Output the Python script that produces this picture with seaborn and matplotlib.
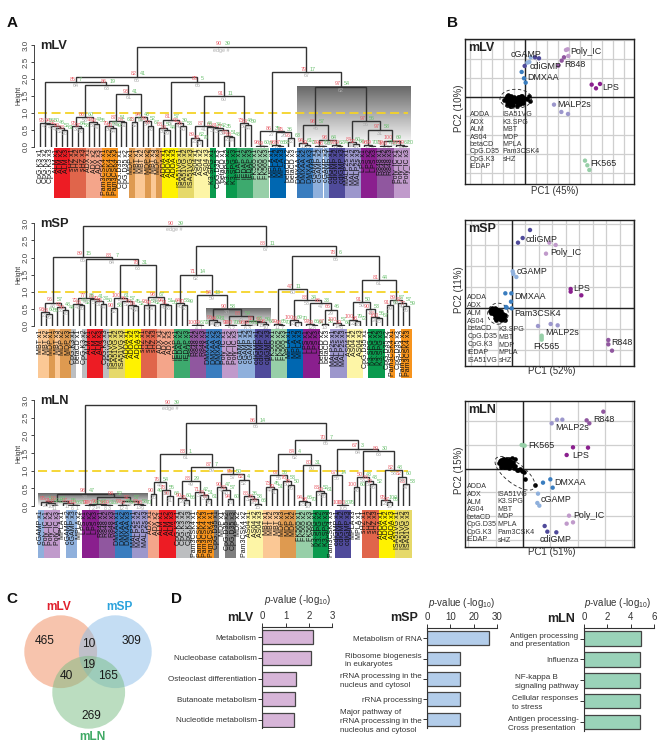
import matplotlib
matplotlib.use("Agg")
import matplotlib.pyplot as plt
from matplotlib.patches import Circle, Ellipse
import numpy as np
import pandas as pd
import seaborn as sns

# ---- data ----
L = None  # a leaf; a node is (height, AU, BP, left, right)

mLV_tree = (2.95, 90, 39,
    (2.07, 82, 41,
        (1.9, 85, 7,
            (0.7, 95, 56, L, (0.68, 94, 50, L, (0.62, 92, 46, L, (0.55, 90, 52, L, (0.48, 88, 61, L, L))))),
            (1.83, 86, 19,
                (0.88, 86, 60, (0.6, 95, 64, L, (0.55, 97, 58, L, L)), (0.73, 92, 47, L, (0.68, 90, 55, L, L))),
                (1.55, 93, 41,
                    (0.77, 87, 51, (0.6, 79, 60, L, (0.55, 90, 49, L, L)), (0.72, 84, 63, L, L)),
                    (0.88, 94, 48, (0.72, 73, 51, L, L), (0.75, 89, 52, L, (0.62, 90, 67, L, L)))))),
        (1.92, 85, 5,
            (0.8, 81, 57, (0.56, 88, 50, L, (0.48, 84, 44, L, L)), (0.7, 92, 39, L, (0.6, 86, 53, L, L))),
            (1.5, 91, 11,
                (0.6, 87, 44,
                    (0.27, 89, 62, L, (0.2, 93, 70, L, L)),
                    (0.58, 66, 38, L, (0.55, 81, 42, L, (0.5, 77, 35, L, (0.33, 92, 51, L, (0.28, 88, 43, L, L)))))),
                (0.7, 73, 48, L, (0.65, 84, 59, L, L))))),
    (2.2, 79, 17,
        (0.45, 86, 35,
            (0.03, 98, 60, L, (0.02, 99, 71, L, L)),
            (0.42, 95, 36, (0.04, 98, 66, L, (0.03, 97, 58, L, L)), (0.25, 96, 63, L, L))),
        (1.77, 97, 54,
            (0.65, 98, 57,
                (0.1, 94, 61, L, (0.05, 99, 72, L, L)),
                (0.2, 98, 64, (0.03, 99, 70, L, (0.02, 98, 66, L, L)), (0.05, 97, 62, L, (0.03, 99, 74, L, L)))),
            (0.75, 97, 56,
                (0.13, 84, 60, L, (0.07, 92, 68, L, L)),
                (0.5, 97, 58,
                    (0.05, 98, 70, L, (0.03, 99, 73, L, L)),
                    (0.18, 100, 69,
                        (0.03, 99, 71, L, (0.02, 100, 75, L, L)),
                        (0.05, 100, 67, L, (0.03, 99, 80, L, L))))))))

mSP_core = (1.5, 71, 14,
    (0.67, 64, 53, L, (0.62, 70, 49, L, L)),
    (0.9, 54, 13,
        (0.03, 100, 67, L, (0.02, 99, 72, L, L)),
        (0.5, 90, 58,
            (0.17, 96, 60, L, (0.13, 94, 61, L, L)),
            (0.28, 88, 54,
                (0.03, 99, 70, L, (0.02, 100, 66, L, L)),
                (0.15, 92, 63, (0.03, 98, 68, L, (0.02, 99, 61, L, L)), (0.12, 97, 59, L, (0.05, 98, 60, L, L)))))))
mSP_far = (2.05, 78, 6,
    (1.07, 47, 11,
        (0.05, 99, 65, L, (0.03, 98, 70, L, L)),
        (0.75, 88, 34,
            (0.17, 100, 69, L, (0.13, 96, 70, L, L)),
            (0.67, 86, 33,
                (0.05, 97, 66, L, (0.03, 99, 64, L, L)),
                (0.48, 66, 46, (0.05, 67, 50, L, L), (0.1, 100, 57, L, (0.03, 99, 60, L, L)))))),
    (1.33, 81, 44,
        (0.7, 91, 50, (0.18, 100, 79, L, (0.14, 98, 72, L, L)), (0.5, 90, 53, L, (0.27, 88, 56, L, (0.22, 100, 67, L, L)))),
        (0.75, 89, 57, (0.6, 91, 60, L, L), (0.68, 82, 57, L, (0.57, 77, 59, L, L)))))
mSP_left = (2.03, 89, 15,
    (0.68, 96, 57, (0.4, 93, 60, L, (0.36, 88, 55, L, L)), (0.55, 92, 48, L, (0.47, 90, 44, L, L))),
    (1.97, 88, 7,
        (0.82, 77, 36,
            (0.65, 72, 47, L, (0.6, 88, 52, L, L)),
            (0.78, 81, 41, L, (0.72, 79, 37, L, (0.65, 85, 50, L, L)))),
        (1.78, 78, 31,
            (0.82, 100, 61, (0.53, 90, 58, L, L), (0.72, 86, 57, L, (0.62, 80, 45, L, (0.57, 84, 52, L, L)))),
            (0.85, 98, 67, (0.62, 93, 58, L, (0.6, 90, 62, L, L)), (0.65, 94, 51, L, (0.6, 91, 56, L, L))))))
mSP_tree = (2.92, 90, 39, mSP_left, (2.33, 88, 11, mSP_core, mSP_far))

mLN_tree = (2.85, 90, 39,
    (0.35, 98, 47,
        (0.14, 96, 60,
            (0.12, 95, 58, L, (0.08, 91, 62, L, (0.04, 99, 70, L, L))),
            (0.08, 97, 55, L, (0.03, 98, 66, L, (0.02, 99, 71, L, L)))),
        (0.26, 94, 52,
            (0.06, 98, 63, (0.03, 99, 68, L, (0.02, 100, 73, L, L)), (0.03, 98, 61, L, (0.02, 99, 66, L, L))),
            (0.15, 92, 57, (0.04, 97, 69, L, (0.02, 99, 64, L, L)), (0.05, 96, 58, L, (0.03, 98, 70, L, L))))),
    (2.35, 86, 14,
        (1.47, 83, 1,
            (0.68, 76, 54, (0.35, 90, 49, L, L), (0.45, 78, 55, L, (0.27, 90, 64, L, L))),
            (1.1, 87, 7,
                (0.7, 83, 29, (0.23, 90, 60, L, (0.17, 95, 66, L, L)), (0.4, 71, 42, L, (0.3, 84, 51, L, (0.2, 87, 61, L, L)))),
                (0.9, 95, 50, (0.53, 90, 47, L, (0.45, 82, 57, L, (0.2, 94, 60, L, L))),
                    (0.75, 82, 4, L, (0.28, 88, 36, L, (0.2, 93, 58, L, (0.07, 96, 66, L, L))))))),
        (1.87, 70, 7,
            (1.47, 84, 4,
                (0.87, 67, 36, (0.55, 73, 45, L, (0.48, 79, 51, L, L)), (0.72, 76, 53, L, (0.6, 78, 50, L, L))),
                (1.15, 80, 31, (0.15, 94, 66, L, (0.1, 98, 70, L, L)), (0.43, 83, 52, L, (0.38, 90, 61, L, L)))),
            (1.62, 67, 3,
                (0.88, 87, 14, L, (0.03, 100, 80, L, (0.02, 100, 76, L, L))),
                (1.56, 89, 30,
                    (0.82, 50, 43, (0.53, 100, 60, L, L), (0.72, 88, 43, L, (0.62, 72, 52, L, L))),
                    (1.02, 82, 48, (0.17, 95, 100, L, (0.1, 97, 85, L, L)), (0.83, 82, 60, L, (0.62, 83, 53, L, L))))))))

mLV_leaves = (['CpG.K3'] * 3 + ['ALM'] * 3 + ['sHZ'] * 3 + ['ADX'] * 3 + ['Pam3CSK4'] * 3 + ['CpG.D35'] * 2
              + ['MDP', 'MBT', 'MBT', 'MDP', 'MBT', 'MDP'] + ['ADDA'] * 3 + ['ISA51VG'] * 3 + ['AS04'] * 3
              + ['K3.SPG', 'CpG.D35', 'betaCD'] + ['K3.SPG'] * 2 + ['iEDAP'] * 3 + ['FK565'] * 3 + ['MPLA'] * 3
              + ['betaCD'] * 2 + ['DMXAA'] * 3 + ['cGAMP'] * 3 + ['cdiGMP'] * 3 + ['MALP2s'] * 3 + ['LPS'] * 3
              + ['R848'] * 3 + ['Poly_IC'] * 3)
mLV_blank = [0, 1, 2, 15, 16, 33, 34, 46, 47]

mSP_leaves = (['MBT', 'MBT', 'MDP', 'MBT', 'MDP', 'MDP', 'CpG.K3', 'betaCD', 'CpG.K3'] + ['ALM'] * 3 + ['CpG.K3']
              + ['ISA51VG'] * 3 + ['ADDA'] * 3 + ['sHZ'] * 3 + ['ADX'] * 3 + ['iEDAP'] * 3 + ['R848'] * 3
              + ['DMXAA'] * 3 + ['Poly_IC'] * 3 + ['cGAMP'] * 3 + ['cdiGMP'] * 3 + ['FK565'] * 3 + ['MPLA'] * 3
              + ['LPS'] * 3 + ['betaCD'] * 2 + ['MALP2s'] * 3 + ['AS04'] * 3 + ['CpG.D35'] + ['K3.SPG'] * 3
              + ['CpG.D35', 'Pam3CSK4', 'CpG.D35', 'Pam3CSK4', 'Pam3CSK4'])
mSP_blank = [7, 52, 53, 60, 64, 66]

mLN_leaves = (['cGAMP'] + ['Poly_IC'] * 3 + ['MPLA', 'cGAMP', 'cGAMP', 'MPLA'] + ['LPS'] * 3 + ['R848'] * 3
              + ['DMXAA'] * 3 + ['MALP2s'] * 3 + ['ADX'] * 2 + ['ALM'] * 3 + ['CpG.K3'] * 3 + ['Pam3CSK4'] * 4
              + ['CpG.D35', 'MDP', 'CpG.D35', 'CpG.D35', 'MDP', 'Pam3CSK4'] + ['AS04'] * 3 + ['MBT'] * 3
              + ['MDP'] * 3 + ['FK565'] * 3 + ['K3.SPG'] * 3 + ['Pam3CSK4'] + ['cdiGMP'] * 3 + ['MPLA'] * 2
              + ['sHZ'] * 3 + ['ADDA'] * 3 + ['ISA51VG'] * 3)
mLN_blank = [4, 7, 28, 33, 36, 37, 53, 57, 58]

# PCA scores, three replicates per stimulus in the order of *_stims
mLV_stims = ['cGAMP', 'cdiGMP', 'DMXAA', 'Poly_IC', 'R848', 'LPS', 'MALP2s', 'FK565']
mLV_pc1 = [0.6, 1.2, 1.6, 4.1, -0.2, 2.9, -1.1, -0.4, 0.1, 12.2, 12.7, 12.9, 11.6, 10.9, 9.9, 19.9, 21.2, 22.4,
           8.6, 10.8, 12.8, 17.9, 18.6, 19.2]
mLV_pc2 = [10.2, 10.4, 11.8, 11.5, 9.2, 11.8, 7.4, 5.5, 4.2, 14.0, 14.2, 12.2, 11.8, 10.8, 9.3, 3.6, 2.5, 3.8,
           -2.4, -4.6, -5.2, -19.2, -20.6, -22.0]
mLV_rest_pc1 = [-6.3, -5.9, -5.6, -5.4, -5.2, -5.0, -4.8, -4.7, -4.5, -4.4, -4.2, -4.1, -3.9, -3.7, -3.6, -3.4, -3.2,
                -5.5, -5.1, -4.6, -4.3, -3.8, -5.3, -4.9, -4.4, -2.8, -2.5, -2.2, -1.9, -1.6, -1.4, -1.1, -0.8,
                -0.5, -2.6, -2.0, -1.5, -1.0, -0.6, -2.3, -1.8, -1.2, 0.6, 1.2, 1.4]
mLV_rest_pc2 = [-0.9, -0.4, -1.6, 0.1, -0.8, -2.2, 0.3, -1.4, -0.2, -2.7, 0.2, -1.0, -1.9, -0.3, -2.4, 0.0, -1.3,
                -2.6, -1.8, -2.9, -1.6, -0.7, 0.4, 0.0, -0.6, -1.7, -0.6, -2.3, -0.2, -1.4, 0.1, -0.8, -1.9, -0.4,
                -2.8, -1.0, -2.2, 0.2, -1.2, 0.0, -1.6, -1.0, -0.6, 0.1, -1.2]

mSP_stims = ['cdiGMP', 'Poly_IC', 'cGAMP', 'LPS', 'DMXAA', 'Pam3CSK4', 'MALP2s', 'FK565', 'R848']
mSP_pc1 = [5.5, 3.3, 1.9, 11.3, 13.2, 10.3, 0.3, 0.5, 1.4, 17.7, 17.7, 20.9, -1.9, -0.1, -0.2, -1.7, 0.0, -1.5,
           7.9, 11.7, 13.8, 9.0, 9.0, 9.0, 29.0, 29.0, 30.1]
mSP_pc2 = [23.3, 20.9, 19.5, 19.5, 18.8, 16.2, 10.9, 10.1, 9.2, 5.6, 4.8, 3.7, 4.3, 4.3, 1.8, 0.2, -0.2, 0.0,
           -5.5, -4.9, -5.3, -8.4, -9.0, -9.6, -9.7, -11.0, -12.9]
mSP_rest_pc1 = [-6.6, -6.3, -6.1, -5.9, -5.8, -5.6, -5.5, -5.3, -5.2, -5.0, -4.9, -4.7, -4.6, -4.4, -4.2, -4.0, -3.8,
                -3.6, -3.4, -3.2, -3.0, -2.8, -2.5, -2.2, -1.9, -6.0, -5.4, -4.8, -4.3, -3.9, -3.5, -3.1, -2.7,
                -5.7, -5.1, -4.5, -4.1, -3.7, -3.3, -2.9, -5.0, -4.6, -3.6, -2.4, -2.0]
mSP_rest_pc2 = [-1.0, -0.5, -1.5, -0.2, -1.0, -1.7, -0.4, -2.0, -0.8, -1.4, -2.3, -0.3, -1.1, -1.8, -2.7, -0.6, -1.4,
                -2.2, -3.0, -1.0, -1.9, -2.8, -3.3, -2.6, -2.2, -0.7, -1.3, -2.6, -2.2, -1.1, -3.4, -2.5, -1.8,
                -1.2, -0.1, -0.7, -3.1, -2.6, -3.7, -3.3, -3.1, -3.6, -1.8, -3.0, -3.6]

mLN_stims = ['R848', 'MALP2s', 'FK565', 'LPS', 'DMXAA', 'cGAMP', 'Poly_IC', 'cdiGMP']
mLN_pc1 = [19.1, 19.9, 24.1, 8.6, 10.2, 11.8, -0.4, 0.1, 0.5, 15.0, 19.5, 13.1, 8.2, 6.0, 8.9, 4.5, 4.3, 4.9,
           13.8, 13.1, 15.0, 6.5, 7.3, 10.0]
mLN_pc2 = [14.5, 13.6, 17.1, 13.6, 14.7, 14.7, 7.1, 7.0, 6.9, 6.4, 6.3, 4.1, -3.2, -4.2, -5.7, -7.5, -10.3, -11.1,
           -14.1, -16.5, -16.1, -17.2, -18.9, -19.1]
mLN_rest_pc1 = [-7.1, -6.9, -6.7, -6.6, -6.4, -6.3, -6.1, -6.0, -5.8, -5.7, -5.5, -5.4, -5.2, -5.1, -4.9, -4.8, -4.6,
                -4.4, -4.2, -4.0, -3.8, -3.5, -3.2, -2.9, -2.5, -6.2, -5.6, -5.0, -4.5, -3.9, -6.5, -5.9, -5.3,
                -4.7, -4.1, -3.0, -2.7, -2.4, -1.8, -1.4, -1.0, -0.4, 0.2, 0.5, 3.6]
mLN_rest_pc2 = [1.6, 2.2, 1.2, 2.7, 1.8, 0.9, 2.4, 1.4, 2.9, 0.6, 2.0, 1.1, 2.6, 0.4, 1.6, 3.0, 0.9, 2.2, 0.3, 1.4,
                2.7, 0.9, 3.1, 2.0, 3.0, 1.2, 2.5, 1.9, 1.0, 2.2, 0.6, 3.0, 0.8, 1.3, 2.8, 1.5, 0.2, 0.9, -0.3,
                -0.5, -0.2, -0.8, -0.9, -3.0, -5.0]

stims_left_mLV = ['ADDA', 'ADX', 'ALM', 'AS04', 'betaCD', 'CpG.D35', 'CpG.K3', 'iEDAP']
stims_right_mLV = ['ISA51VG', 'K3.SPG', 'MBT', 'MDP', 'MPLA', 'Pam3CSK4', 'sHZ']
stims_left_mSP = ['ADDA', 'ADX', 'ALM', 'AS04', 'betaCD', 'CpG.D35', 'CpG.K3', 'iEDAP', 'ISA51VG']
stims_right_mSP = ['K3.SPG', 'MBT', 'MDP', 'MPLA', 'sHZ']
stims_left_mLN = ['ADDA', 'ADX', 'ALM', 'AS04', 'betaCD', 'CpG.D35', 'CpG.K3', 'iEDAP']
stims_right_mLN = ['ISA51VG', 'K3.SPG', 'MBT', 'MDP', 'MPLA', 'Pam3CSK4', 'sHZ']

venn_counts = [465, 309, 269, 10, 40, 165, 19]

mLV_paths = ['Metabolism', 'Nucleobase catabolism', 'Osteoclast differentiation', 'Butanoate metabolism',
             'Nucleotide metabolism']
mLV_pvals = [2.17, 2.1, 1.43, 1.4, 1.38]
mSP_paths = ['Metabolism of RNA', 'Ribosome biogenesis\nin eukaryotes', 'rRNA processing in the\nnucleus and cytosol',
             'rRNA processing', 'Major pathway of\nrRNA processing in the\nnucleolus and cytosol']
mSP_pvals = [26.5, 14, 14, 14, 14]
mLN_paths = ['Antigen processing\nand presentation', 'Influenza', 'NF-kappa B\nsignaling pathway',
             'Cellular responses\nto stress', 'Antigen processing-\nCross presentation']
mLN_pvals = [4.85, 4.8, 4.8, 4.8, 4.8]

# ---- styles ----
stim_colors = {'ALM': '#ED1C24', 'sHZ': '#E0654B', 'ADX': '#F4A58A', 'Pam3CSK4': '#F7941D', 'MBT': '#FBC895',
               'MDP': '#DE9A50', 'ADDA': '#FFF200', 'ISA51VG': '#E6D96A', 'AS04': '#FDF5A6', 'K3.SPG': '#0A9A4E',
               'iEDAP': '#3DAA6E', 'FK565': '#97CFA8', 'MPLA': '#0067B1', 'DMXAA': '#3A7DBF', 'cGAMP': '#8FB0DC',
               'cdiGMP': '#4F4A9A', 'MALP2s': '#9C97CC', 'LPS': '#8A1F8E', 'R848': '#90579F', 'Poly_IC': '#C09ACB',
               'CpG.K3': '#BCBEC0', 'CpG.D35': '#7F7F7F', 'betaCD': '#FFFFFF'}
scatter_colors = dict(stim_colors, Pam3CSK4='#3A7DBF')

sns.set_theme(style='white')
plt.rcParams['font.family'] = ['Liberation Sans', 'DejaVu Sans']
plt.rcParams['mathtext.fontset'] = 'custom'
plt.rcParams['mathtext.rm'] = 'Liberation Sans'
plt.rcParams['mathtext.it'] = 'Liberation Sans:italic'
plt.rcParams['mathtext.default'] = 'regular'

W, H = 660, 754
fig = plt.figure(figsize=(W / 100, H / 100), dpi=100)


def px_axes(x0, y0, x1, y1):
    return fig.add_axes([x0 / W, 1 - y1 / H, (x1 - x0) / W, (y1 - y0) / H])


def fig_text(x, y, s, **kw):
    fig.text(x / W, 1 - y / H, s, **kw)


def place(node, counter, out):
    # walk the tree, give each leaf the next slot, collect the merges
    if node is None:
        counter[0] += 1
        return counter[0] - 1, 0.0
    h, au, bp, left, right = node
    xl, yl = place(left, counter, out)
    xr, yr = place(right, counter, out)
    out.append(dict(h=h, au=au, bp=bp, xl=xl, xr=xr, yl=yl, yr=yr, x=(xl + xr) / 2))
    return (xl + xr) / 2, h


def draw_dendro(tree, leaves, blank, title, y0, y3, x0, dx, strip, shade):
    ax = px_axes(34, y3, 412, y0)
    merges = []
    place(tree, [0], merges)
    ranks = {id(m): i + 1 for i, m in enumerate(sorted(merges, key=lambda m: m['h']))}
    # shaded box behind the selected branch
    grad = np.linspace(0, 1, 64).reshape(-1, 1)
    ax.imshow(grad, extent=(shade[0] - 0.5, shade[1] + 0.5, 0, shade[2]), aspect='auto', cmap='gray',
              vmin=-0.7, vmax=1.0, origin='upper', zorder=0)
    for m in merges:
        ax.plot([m['xl'], m['xl'], m['xr'], m['xr']], [m['yl'], m['h'], m['h'], m['yr']],
                color='#333333', lw=1.0, solid_joinstyle='miter', zorder=2)
        ax.text(m['x'], m['h'] + 0.01, str(m['au']), color='#E8606A', fontsize=3.9, ha='right', va='bottom', zorder=3)
        ax.text(m['x'] + 0.6, m['h'] + 0.01, str(m['bp']), color='#6CC070', fontsize=3.9, ha='left', va='bottom', zorder=3)
        edge = 'edge #' if m['h'] == tree[0] else str(ranks[id(m)])
        ax.text(m['x'], m['h'] - 0.03, edge, color='#AAAAAA', fontsize=3.9, ha='center', va='top', zorder=3)
    ax.axhline(1.0, xmin=0.01, xmax=0.99, color='#F5D327', lw=1.3, ls=(0, (5, 2.5)), zorder=1)
    ax.set_xlim((34 - x0) / dx, (412 - x0) / dx)
    ax.set_ylim(0, 3)
    sns.despine(ax=ax, bottom=True)
    ax.spines['left'].set_linewidth(0.7)
    ax.spines['left'].set_color('#444444')
    ax.set_xticks([])
    ax.set_yticks(np.arange(0, 3.01, 0.5))
    ax.set_yticklabels(['%.1f' % v for v in np.arange(0, 3.01, 0.5)], rotation=90, va='center',
                       fontsize=5.8, color='#444444')
    ax.tick_params(axis='y', left=True, length=2, width=0.6, pad=1)
    fig_text(19, (y0 + y3) / 2, 'Height', rotation=90, fontsize=4.8, ha='center', va='center', color='#333333')
    fig_text(40, y3 + 1, title, fontsize=9.3, fontweight='bold', ha='left', va='center', color='#222222')

    # coloured strip with the sample names hanging from the leaves
    sax = px_axes(34, strip[0], 412, strip[1])
    sax.axis('off')
    sax.set_xlim(ax.get_xlim())
    sax.set_ylim(0, 1)
    seen = {}
    for i, name in enumerate(leaves):
        if i not in blank:
            sax.bar(i, 1, width=1.0, bottom=0, color=stim_colors[name], linewidth=0)
        seen[name] = seen.get(name, 0) + 1
        sax.text(i, 0.985, '%s x%d' % (name, (seen[name] - 1) % 3 + 1), rotation=90, ha='center', va='top',
                 fontsize=5.0, color='#111111', clip_on=False)


draw_dendro(mLV_tree, mLV_leaves, mLV_blank, 'mLV', 146.7, 45, 40, 5.40, (148, 198), (48, 68, 1.78))
draw_dendro(mSP_tree, mSP_leaves, mSP_blank, 'mSP', 326, 223.3, 41, 5.41, (329, 378), (31, 42, 0.5))
draw_dendro(mLN_tree, mLN_leaves, mLN_blank, 'mLN', 506, 400, 41, 5.49, (510, 558), (0, 19, 0.36))


def draw_pca(box, cx, cy, step_x, step_y, stims, pc1, pc2, rest1, rest2, ell, title, labels, left, right, xlab, ylab):
    ax = px_axes(*box)
    zw, zh = (box[2] - box[0]) * 0.3, (box[3] - box[1]) * 0.3  # score units per pixel
    xlim = (-cx * 0.1, zw - cx * 0.1)
    ylim = (-(zh - cy * 0.1), cy * 0.1)
    rows = pd.DataFrame({'pc1': pc1, 'pc2': pc2, 'stim': [s for s in stims for _ in range(3)]})
    ax.set_xticks(np.arange(-10, 12) * step_x)
    ax.set_yticks(np.arange(-10, 12) * step_y)
    ax.grid(True, color='#CFCFCF', lw=0.9)
    ax.axhline(0, color='#222222', lw=1.0, zorder=2)
    ax.axvline(0, color='#222222', lw=1.0, zorder=2)
    sns.scatterplot(data=pd.DataFrame({'pc1': rest1, 'pc2': rest2}), x='pc1', y='pc2', color='black', s=11,
                    linewidth=0, ax=ax, zorder=3)
    sns.scatterplot(data=rows, x='pc1', y='pc2', hue='stim', palette=scatter_colors, s=10, linewidth=0,
                    legend=False, ax=ax, zorder=4)
    ax.add_patch(Ellipse(ell[:2], ell[2], ell[3], angle=ell[4], fill=False, ec='#222222', lw=0.6,
                         ls=(0, (4, 3)), zorder=3))
    ax.set_xlim(*xlim)
    ax.set_ylim(*ylim)
    ax.set_xlabel('')
    ax.set_ylabel('')
    ax.tick_params(labelbottom=False, labelleft=False, bottom=False, left=False)
    for s in ax.spines.values():
        s.set_visible(True)
        s.set_color('#222222')
        s.set_linewidth(1.0)
    ax.text(xlim[0] + 1.0, ylim[1] - 2.7, title, fontsize=9, fontweight='bold', ha='left', va='center',
            color='#222222', zorder=6)
    for name, (x, y) in labels.items():
        ax.text(x, y, name, fontsize=6.4, ha='left', va='center', color='#222222', zorder=6)
    for names, x, y, dy in (left, right):
        for i, name in enumerate(names):
            ax.text(x, y + i * dy, name, fontsize=5.1, ha='left', va='center', color='#333333', zorder=6)
    fig_text(xlab[0], xlab[1], xlab[2], fontsize=7, ha='center', va='center', color='#333333')
    fig_text(459, ylab[0], ylab[1], fontsize=7, rotation=90, ha='center', va='center', color='#333333')


draw_pca((465, 39.3, 634.3, 184.3), 181, 172, 3.3, 5.7, mLV_stims, mLV_pc1, mLV_pc2, mLV_rest_pc1, mLV_rest_pc2,
         (-2.85, -0.65, 9.5, 5.7, 0), 'mLV',
         {'cGAMP': (-4.4, 12.5), 'cdiGMP': (1.2, 9.0), 'DMXAA': (0.7, 5.8), 'Poly_IC': (13.6, 13.5),
          'R848': (11.7, 9.6), 'LPS': (23.1, 2.8), 'MALP2s': (9.6, -2.5), 'FK565': (19.4, -20.0)},
         (stims_left_mLV, -16.6, -5.5, -2.22), (stims_right_mLV, -6.8, -5.5, -2.22),
         (555, 190.7, 'PC1 (45%)'), (108, 'PC2 (10%)'))
draw_pca((465, 220, 634.3, 365.7), 140, 263, 4.05, 6.3, mSP_stims, mSP_pc1, mSP_pc2, mSP_rest_pc1, mSP_rest_pc2,
         (-4.1, -1.8, 6.2, 6.3, 0), 'mSP',
         {'cdiGMP': (4.3, 20.5), 'Poly_IC': (11.5, 16.5), 'cGAMP': (1.5, 11.0), 'LPS': (18.5, 5.8),
          'DMXAA': (0.7, 3.3), 'Pam3CSK4': (0.7, -1.7), 'MALP2s': (10.0, -7.4), 'FK565': (6.5, -11.7),
          'R848': (30.0, -10.6)},
         (stims_left_mSP, -13.3, 3.1, -2.37), (stims_right_mSP, -3.9, -6.6, -2.33),
         (551.7, 371, 'PC1 (52%)'), (290, 'PC2 (11%)'))
draw_pca((465, 401, 634.3, 546.7), 174, 203, 8.2, 7.1, mLN_stims, mLN_pc1, mLN_pc2, mLN_rest_pc1, mLN_rest_pc2,
         (-2.4, -1.4, 14.5, 6.0, -38), 'mLN',
         {'MALP2s': (9.8, 12.4), 'R848': (21.1, 14.8), 'FK565': (1.6, 7.1), 'LPS': (14.9, 4.1), 'DMXAA': (9.5, -4.1),
          'cGAMP': (5.4, -9.2), 'Poly_IC': (15.1, -14.0), 'cdiGMP': (5.1, -21.3)},
         (stims_left_mLN, -16.9, -5.5, -2.27), (stims_right_mLN, -7.6, -7.6, -2.3),
         (551.7, 552, 'PC1 (51%)'), (470, 'PC2 (15%)'))

# Venn
vax = px_axes(0, 590, 170, 754)
vax.set_xlim(0, 170)
vax.set_ylim(754, 590)
vax.axis('off')
for (cx, cy), col in zip([(60.7, 651.7), (115.3, 651.7), (88.7, 692.3)], ['#F08A5D', '#8BBDE8', '#78BC82']):
    vax.add_patch(Circle((cx, cy), 36.4, color=col, alpha=0.5, lw=0))
venn_xy = [(45, 641.5), (132, 641), (91, 716), (89, 644), (66, 676), (108, 676), (88.5, 665)]
for val, (x, y) in zip(venn_counts, venn_xy):
    vax.text(x, y, str(val), fontsize=8.6, ha='center', va='center', color='#1A1A1A')
vax.text(59, 607, 'mLV', fontsize=8.6, fontweight='bold', ha='center', va='center', color='#E0202C')
vax.text(119, 607, 'mSP', fontsize=8.6, fontweight='bold', ha='center', va='center', color='#2BA3DC')
vax.text(92, 737, 'mLN', fontsize=8.6, fontweight='bold', ha='center', va='center', color='#3FA964')


def draw_bars(box, paths, pvals, ticks, color, title, title_xy, label_xy, multi):
    ax = px_axes(*box)
    df = pd.DataFrame({'path': paths, 'p': pvals})
    sns.barplot(data=df, y='path', x='p', color=color, orient='h', width=0.68, saturation=1,
                edgecolor='#444444', linewidth=0.9, ax=ax)
    ax.set_xlim(ticks[0], ticks[-1])
    ax.set_ylim(4.42, -0.52)
    ax.set_xlabel('')
    ax.set_ylabel('')
    ax.set_xticks(ticks)
    ax.xaxis.tick_top()
    sns.despine(ax=ax, top=False, right=True, bottom=True, left=False)
    for side in ('top', 'left'):
        ax.spines[side].set_color('#333333')
        ax.spines[side].set_linewidth(0.8)
    ax.tick_params(axis='x', top=True, length=3, width=0.7, pad=1, labelsize=7, labelcolor='#333333', color='#333333')
    ax.tick_params(axis='y', left=True, length=3, width=0.7, pad=1, labelsize=5.8, labelcolor='#333333', color='#333333')
    for lab in ax.get_yticklabels():
        lab.set_multialignment(multi)
        lab.set_linespacing(1.35)
    fig_text(title_xy[0], title_xy[1], title, fontsize=9, fontweight='bold', ha='center', va='center', color='#222222')
    fig_text(label_xy[0], label_xy[1], r'$\mathit{p}$-value (-log$_{10}$)', fontsize=7, ha='center', va='center',
             color='#333333')


draw_bars((262.3, 626.7, 332, 728.3), mLV_paths, mLV_pvals, [0, 1, 2, 3], '#D7B5D8', 'mLV', (240, 618), (298, 600), 'right')
draw_bars((427.3, 627.7, 496.7, 728), mSP_paths, mSP_pvals, [0, 10, 20, 30], '#B3CDEA', 'mSP', (404, 618), (461.7, 602.7), 'left')
draw_bars((584, 627.7, 654, 731), mLN_paths, mLN_pvals, [0, 2, 4, 6], '#9AD3B9', 'mLN', (561, 619), (618, 603), 'left')

for (x, y, s) in [(12, 23, 'A'), (452, 23, 'B'), (12, 599, 'C'), (177, 599, 'D')]:
    fig_text(x, y, s, fontsize=11, fontweight='bold', ha='center', va='center', color='#111111')

fig.savefig('out.png', dpi=100, facecolor='white')
